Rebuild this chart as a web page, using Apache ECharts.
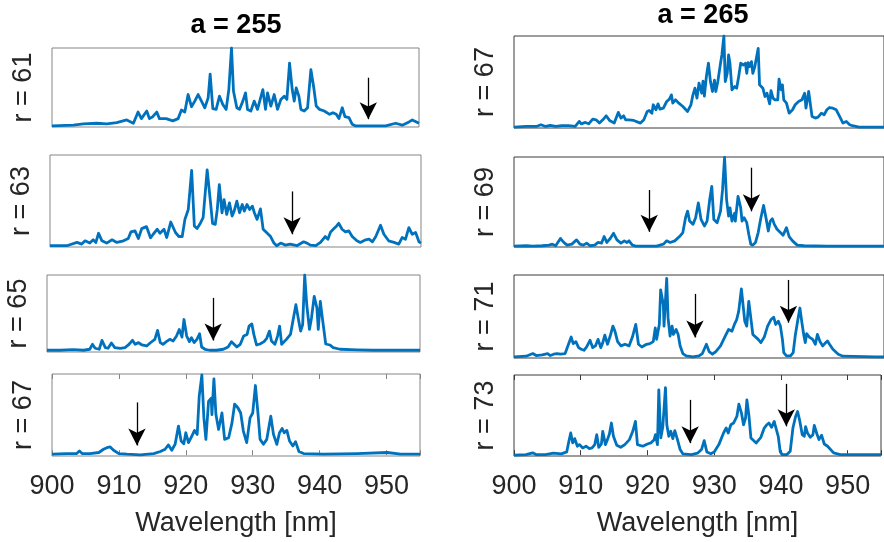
<!DOCTYPE html>
<html>
<head>
<meta charset="utf-8">
<script src="https://cdn.jsdelivr.net/npm/echarts@6/dist/echarts.min.js"></script>
<style>
html, body { margin: 0; padding: 0; background: #ffffff; }
#chart { width: 884px; height: 542px; }
</style>
</head>
<body>
<div id="chart"></div>
<script>
// Column headings and per-panel row labels
const columnTitles = ['a = 255', 'a = 265'];
const rowLabelsA255 = ['r = 61', 'r = 63', 'r = 65', 'r = 67'];
const rowLabelsA265 = ['r = 67', 'r = 69', 'r = 71', 'r = 73'];
const xTickLabels = [900, 910, 920, 930, 940, 950];
const xLabel = 'Wavelength [nm]';

// Spectra: [wavelength (nm), intensity (% of panel max)]
const spec_a255_r61 = [
  [900.0,0.4],[903.2,1.3],[904.7,3.0],[906.7,3.8],[908.2,3.0],[909.7,4.6],[911.2,8.0],[912.2,3.8],
  [912.9,18.1],[913.4,9.7],[914.2,19.4],[914.6,9.7],[915.1,12.2],[915.7,18.1],[916.1,9.7],[917.1,9.7],
  [918.1,6.8],[918.9,9.7],[919.4,20.7],[919.9,18.1],[920.1,19.4],[920.4,40.5],[920.9,24.9],[921.4,32.1],
  [921.9,40.5],[922.4,32.1],[922.9,23.6],[923.4,36.3],[923.7,66.7],[924.1,22.4],[924.6,21.5],[925.1,38.4],
  [925.6,27.8],[926.1,21.5],[926.5,46.8],[926.9,100],[927.2,44.7],[927.7,23.6],[928.1,21.5],[928.6,32.1],
  [929.0,42.6],[929.3,21.5],[929.8,19.4],[930.3,32.1],[930.8,21.5],[931.2,34.2],[931.6,46.8],[932.0,21.5],
  [932.3,42.6],[932.8,25.7],[933.3,40.5],[933.8,21.5],[934.3,34.2],[934.8,38.4],[935.2,34.2],[935.6,80.6],
  [936.0,46.8],[936.3,32.1],[936.6,48.9],[937.0,38.4],[937.3,21.5],[937.8,19.4],[938.3,23.6],[938.8,72.2],
  [939.2,51.1],[939.6,25.7],[940.1,21.5],[940.8,19.4],[941.6,15.2],[942.1,17.3],[942.6,15.2],[943.0,9.7],
  [943.5,23.6],[943.9,12.2],[944.5,11.0],[945.0,2.5],[945.5,0.4],[948.0,0.4],[950.0,0.4],[951.5,3.8],
  [952.5,1.3],[953.5,5.5],[954.0,8.0],[955.0,3.8]
];
const spec_a255_r63 = [
  [900.0,0.4],[902.5,0.4],[904.0,4.0],[904.7,2.2],[905.2,5.8],[905.9,3.3],[906.4,6.9],[906.8,4.0],
  [907.2,14.1],[907.7,5.8],[908.4,3.3],[909.2,6.9],[909.9,4.0],[910.9,5.8],[911.6,8.3],[912.0,15.6],
  [912.6,16.7],[913.1,8.3],[913.6,19.2],[914.3,21.4],[914.9,9.1],[915.3,13.0],[915.9,18.5],[916.3,14.1],
  [916.9,18.5],[917.3,9.4],[917.9,26.4],[918.6,14.9],[919.1,10.5],[919.6,10.5],[920.0,29.3],[920.5,40.2],
  [921.0,83.0],[921.4,22.1],[921.8,19.2],[922.2,23.9],[922.7,31.2],[923.3,83.7],[923.8,47.5],[924.1,25.0],
  [924.5,23.9],[924.8,40.2],[925.1,67.4],[925.5,36.6],[925.8,51.1],[926.2,34.8],[926.6,47.5],[927.0,33.0],
  [927.3,38.4],[927.7,49.3],[928.1,36.6],[928.5,45.7],[928.8,38.4],[929.2,45.7],[929.6,40.2],[930.0,43.8],
  [930.3,36.6],[930.7,29.3],[931.2,40.9],[931.6,18.5],[932.1,14.9],[932.7,10.5],[933.2,3.3],[933.6,0.4],
  [934.2,3.3],[934.9,1.1],[935.6,2.2],[936.6,0.4],[937.6,4.7],[938.1,3.3],[938.6,1.1],[939.4,0.4],
  [940.1,4.0],[940.8,10.5],[941.2,7.6],[941.6,15.6],[942.1,19.2],[942.5,22.1],[942.8,25.0],[943.3,18.5],
  [943.8,15.6],[944.3,16.7],[944.8,10.5],[945.5,5.8],[946.0,4.0],[946.8,6.9],[947.3,7.6],[947.8,4.7],
  [948.3,10.5],[949.0,22.8],[949.5,13.0],[950.2,5.8],[951.0,4.0],[951.7,2.2],[952.2,9.4],[952.7,7.6],
  [953.2,20.3],[953.7,13.0],[954.2,14.9],[954.7,4.7],[955.0,3.3]
];
const spec_a255_r65 = [
  [900.0,1.3],[901.9,1.3],[903.9,2.2],[905.4,1.3],[906.3,2.6],[906.7,9.1],[907.1,3.9],[907.7,2.6],
  [908.1,14.3],[908.6,4.8],[909.0,3.9],[909.5,10.8],[910.0,4.8],[910.8,3.9],[911.5,4.8],[912.0,8.2],
  [912.6,14.3],[913.0,9.1],[913.5,11.3],[914.0,8.2],[914.7,6.9],[915.2,10.8],[915.9,15.6],[916.3,27.3],
  [916.7,11.3],[917.1,9.1],[917.6,12.6],[918.1,15.6],[918.6,13.4],[919.1,19.9],[919.5,28.6],[919.9,18.6],
  [920.2,41.6],[920.6,19.9],[921.0,12.6],[921.3,17.7],[921.7,11.3],[922.1,15.6],[922.5,22.9],[922.8,5.6],
  [923.3,2.6],[924.0,1.3],[925.0,1.3],[926.0,2.6],[926.7,5.6],[927.2,12.6],[928.0,5.6],[928.5,9.1],
  [929.0,19.9],[929.5,22.1],[929.8,32.9],[930.2,35.9],[930.5,22.1],[930.9,8.2],[931.4,9.5],[932.0,12.6],
  [932.4,16.9],[932.8,26.4],[933.1,13.4],[933.6,9.1],[934.0,19.9],[934.3,32.9],[934.6,9.1],[935.3,15.6],
  [935.9,22.1],[936.3,41.6],[936.7,61.0],[937.1,40.7],[937.4,26.4],[937.7,35.1],[938.0,100],[938.3,61.0],
  [938.7,28.6],[939.0,43.7],[939.4,71.9],[939.8,56.7],[940.0,28.6],[940.3,65.4],[940.6,43.7],[941.1,9.5],
  [941.7,8.2],[942.2,4.8],[943.2,2.6],[945.7,1.7],[948.1,1.3],[955.0,1.3]
];
const spec_a255_r67 = [
  [900.0,1.2],[902.2,2.0],[903.7,2.0],[904.1,5.3],[904.5,2.0],[905.7,2.0],[907.0,3.3],[907.7,7.3],
  [908.2,9.3],[908.7,10.2],[909.2,6.1],[910.0,2.0],[911.2,1.2],[913.2,0.4],[915.2,2.0],[916.2,4.5],
  [916.9,7.3],[917.4,12.6],[917.9,6.1],[918.4,13.4],[918.9,35.8],[919.3,17.5],[919.7,14.2],[920.0,27.6],
  [920.4,15.4],[920.9,23.6],[921.3,30.5],[921.7,25.6],[922.0,72.4],[922.4,98.8],[922.7,45.9],[923.0,19.5],
  [923.4,66.3],[923.8,70.3],[923.9,50.0],[924.2,93.9],[924.5,50.0],[924.9,31.7],[925.4,52.0],[925.8,19.5],
  [926.4,21.5],[926.9,39.8],[927.3,63.0],[927.8,58.1],[928.2,52.0],[928.6,29.7],[929.1,15.4],[929.6,45.9],
  [930.0,52.0],[930.4,85.8],[930.8,50.0],[931.1,19.5],[931.6,13.4],[932.1,19.5],[932.7,48.0],[933.1,25.6],
  [933.6,13.4],[934.0,27.6],[934.4,32.9],[934.7,27.6],[935.1,30.5],[935.5,17.5],[936.0,11.4],[936.4,16.7],
  [936.9,4.5],[937.6,2.0],[940.6,1.2],[945.6,2.0],[950.1,3.3],[952.1,1.2],[955.0,1.2]
];
const spec_a265_r67 = [
  [900.0,0],[901.8,0.7],[903.3,0.7],[904.0,2.6],[904.7,0.7],[905.4,1.8],[906.2,0.7],[907.1,1.5],
  [908.1,1.5],[909.1,0.7],[909.7,6.2],[910.0,3.6],[910.6,5.1],[911.1,3.6],[911.7,8.8],[912.2,8.0],
  [912.7,4.4],[913.2,8.0],[913.7,12.4],[914.2,7.3],[914.9,4.4],[915.5,16.1],[915.9,9.9],[916.3,12.4],
  [916.6,8.0],[917.1,8.0],[917.8,7.3],[918.8,4.4],[919.3,8.0],[919.8,17.2],[920.1,18.2],[920.5,15.3],
  [920.7,24.5],[921.1,19.0],[921.4,25.5],[921.7,19.7],[922.2,20.8],[922.7,28.1],[923.1,30.7],[923.4,35.4],
  [923.6,26.3],[924.0,29.9],[924.5,26.3],[925.1,22.6],[925.8,17.2],[926.3,24.5],[926.6,35.4],[926.9,42.7],
  [927.2,31.8],[927.5,48.2],[927.9,37.2],[928.1,50.4],[928.3,33.9],[928.6,55.8],[928.9,70.1],[929.2,50.0],
  [929.5,39.1],[929.8,51.5],[930.0,39.1],[930.3,50.0],[930.7,70.1],[930.9,79.2],[931.2,100],[931.4,50.0],
  [931.7,59.1],[931.9,79.2],[932.1,70.1],[932.4,40.9],[932.8,44.5],[933.1,42.7],[933.4,55.5],[933.7,70.1],
  [934.1,68.2],[934.4,70.1],[934.6,59.1],[934.8,70.8],[935.0,66.4],[935.3,71.9],[935.5,59.1],[935.8,66.4],
  [936.0,64.6],[936.3,86.5],[936.5,46.4],[936.7,44.5],[937.0,42.7],[937.3,33.6],[937.6,37.2],[938.0,25.5],
  [938.2,40.1],[938.5,31.8],[938.8,29.9],[939.2,29.9],[939.4,52.6],[939.7,40.9],[939.9,46.4],[940.1,29.9],
  [940.5,26.3],[940.9,15.3],[941.4,19.0],[941.8,24.5],[942.3,28.1],[942.8,29.9],[943.2,37.2],[943.4,20.8],
  [943.8,39.1],[944.3,11.7],[944.8,9.9],[945.2,10.9],[945.7,15.3],[946.1,13.5],[946.5,19.0],[946.9,21.5],
  [947.4,20.8],[947.9,19.0],[948.4,11.7],[948.9,4.4],[949.4,6.2],[949.9,2.6],[950.3,1.5],[951.3,0],
  [953.7,0],[955.0,0]
];
const spec_a265_r69 = [
  [900.0,0],[901.8,0.4],[902.8,0],[904.2,0.4],[905.2,1.1],[905.7,2.2],[906.2,0.4],[906.9,8.5],
  [907.4,4.1],[907.9,1.1],[908.6,2.2],[909.3,7.0],[909.8,2.2],[910.3,1.1],[910.8,3.3],[911.3,0.4],
  [912.0,1.1],[912.5,4.1],[913.0,3.3],[913.4,10.7],[913.8,4.1],[914.3,8.5],[914.8,14.4],[915.3,7.0],
  [915.9,3.3],[916.4,5.9],[916.8,4.1],[917.1,5.9],[917.6,1.1],[918.1,0],[919.3,0],[921.2,0],
  [922.2,2.2],[922.7,5.9],[923.2,4.1],[923.9,5.9],[924.6,10.7],[925.1,15.2],[925.5,31.9],[925.8,39.3],
  [926.1,28.1],[926.6,24.4],[927.0,31.9],[927.4,48.5],[927.8,30.0],[928.3,22.6],[928.7,28.1],[929.1,52.6],
  [929.4,67.0],[929.7,30.0],[930.2,26.3],[930.7,39.3],[931.0,63.3],[931.3,99.6],[931.6,52.2],[931.9,33.7],
  [932.1,43.0],[932.4,28.1],[932.8,37.0],[932.9,28.1],[933.3,55.9],[933.7,43.0],[933.9,28.1],[934.2,31.9],
  [934.6,26.3],[934.9,13.3],[935.2,2.2],[935.5,1.1],[935.9,4.1],[936.3,15.2],[936.7,31.9],[937.1,45.6],
  [937.5,30.0],[937.8,17.0],[938.1,28.1],[938.4,30.7],[938.7,24.4],[939.1,18.9],[939.6,15.2],[940.0,12.2],
  [940.5,20.7],[940.9,10.7],[941.4,5.9],[942.1,1.1],[943.1,0.4],[946.5,0],[953.7,0],[955.0,0]
];
const spec_a265_r71 = [
  [900.0,0.4],[901.8,1.2],[902.8,4.4],[903.3,2.0],[904.2,2.8],[905.0,4.4],[905.4,2.0],[905.9,3.6],
  [906.4,4.4],[906.9,3.6],[907.6,4.4],[908.1,15.7],[908.5,24.5],[908.8,16.5],[909.2,18.9],[909.6,11.6],
  [910.0,9.6],[910.4,8.4],[910.8,12.4],[911.3,20.5],[911.7,11.6],[912.1,13.7],[912.5,21.7],[912.9,11.6],
  [913.2,17.7],[913.5,26.9],[913.9,15.7],[914.3,25.7],[914.7,37.8],[915.0,31.7],[915.4,18.9],[915.9,13.7],
  [916.5,15.7],[917.1,13.7],[917.6,24.5],[918.1,39.8],[918.5,15.7],[919.0,12.4],[919.7,15.7],[920.2,16.5],
  [920.7,18.9],[921.0,35.7],[921.2,21.7],[921.6,39.8],[921.8,81.9],[922.2,63.9],[922.3,37.8],[922.7,96.0],
  [922.9,47.8],[923.2,25.7],[923.5,37.8],[923.7,27.7],[924.1,33.7],[924.4,27.7],[924.7,13.7],[925.1,4.4],
  [925.6,1.6],[926.6,0.4],[927.5,1.6],[928.0,4.4],[928.6,15.7],[929.0,6.8],[929.5,3.6],[930.0,6.8],
  [930.7,13.7],[931.4,25.7],[931.9,33.7],[932.4,31.7],[932.8,40.6],[933.1,45.8],[933.4,55.8],[933.8,83.1],
  [934.1,59.8],[934.3,43.8],[934.6,37.8],[934.9,67.9],[935.2,47.8],[935.5,27.7],[936.3,21.7],[936.7,17.7],
  [937.2,24.5],[937.7,37.8],[938.2,45.8],[938.6,48.6],[938.9,39.8],[939.3,43.8],[939.6,37.8],[939.9,21.7],
  [940.1,5.6],[940.5,1.6],[941.1,1.6],[941.5,5.6],[941.8,25.7],[942.2,45.8],[942.5,59.8],[942.8,41.8],
  [943.1,25.7],[943.3,17.7],[943.5,28.5],[943.9,24.5],[944.4,21.7],[944.8,15.7],[945.1,27.7],[945.5,18.9],
  [945.9,13.7],[946.2,16.5],[946.6,19.7],[946.9,15.7],[947.4,9.6],[948.2,3.6],[948.9,1.2],[953.7,0.4],
  [955.0,0.4]
];
const spec_a265_r73 = [
  [900.0,0],[901.8,0.8],[902.8,2.9],[903.3,0.8],[904.7,0.8],[905.9,2.5],[907.1,1.7],[907.9,4.1],
  [908.2,16.5],[908.5,27.7],[908.8,15.3],[909.1,20.7],[909.5,11.2],[909.8,13.2],[910.3,9.1],[910.8,11.2],
  [911.3,8.3],[911.7,9.1],[912.1,13.2],[912.4,25.6],[912.7,9.9],[913.1,14.0],[913.3,29.8],[913.7,13.2],
  [914.0,19.4],[914.3,26.4],[914.6,40.1],[914.9,23.6],[915.4,12.4],[916.0,9.9],[916.6,13.2],[917.3,19.4],
  [917.8,29.8],[918.2,42.1],[918.5,13.2],[919.3,11.2],[920.0,14.0],[920.5,15.3],[921.0,19.4],[921.2,25.6],
  [921.5,13.2],[921.7,81.4],[922.0,21.5],[922.3,35.5],[922.7,84.3],[922.9,38.0],[923.2,23.6],[923.5,29.8],
  [923.8,20.7],[924.1,30.6],[924.5,19.4],[924.9,7.0],[925.3,1.7],[926.6,0.8],[927.5,2.5],[928.1,7.0],
  [928.5,18.2],[928.9,4.1],[929.5,1.7],[930.0,4.1],[930.7,13.2],[931.4,27.7],[931.8,33.9],[932.1,27.7],
  [932.5,38.0],[932.9,40.1],[933.1,38.0],[933.4,48.3],[933.7,63.6],[934.1,52.1],[934.4,38.0],[934.7,46.3],
  [934.9,69.0],[935.2,50.0],[935.5,21.5],[936.3,15.3],[937.0,22.3],[937.5,33.9],[937.9,38.0],[938.2,40.1],
  [938.6,34.7],[939.0,42.1],[939.2,35.5],[939.6,23.6],[939.9,4.1],[940.2,0.8],[940.9,0.8],[941.4,5.0],
  [941.8,33.9],[942.2,48.3],[942.5,54.5],[942.8,43.8],[943.2,25.6],[943.5,23.6],[943.7,35.5],[944.0,27.3],
  [944.4,22.3],[944.8,25.6],[945.0,37.2],[945.4,26.4],[945.7,19.4],[946.1,24.8],[946.5,14.0],[947.0,11.2],
  [947.9,2.9],[948.9,0.8],[953.7,0.8],[955.0,0.8]
];

// Marked absorption dips: [wavelength, arrow tail level, arrow head level]
const dips_a255_r61 = [[947.4, 62, 9]];
const dips_a255_r63 = [[935.9, 60, 13]];
const dips_a255_r65 = [[924.5, 70, 14]];
const dips_a255_r67 = [[912.7, 65, 12]];
const dips_a265_r67 = [];
const dips_a265_r69 = [[920.1, 63, 16], [935.3, 88, 39]];
const dips_a265_r71 = [[926.9, 77, 24], [940.8, 94, 42]];
const dips_a265_r73 = [[926.4, 69, 15], [940.8, 89, 36]];

const columns = [
  { title: columnTitles[0], labels: rowLabelsA255,
    spectra: [spec_a255_r61, spec_a255_r63, spec_a255_r65, spec_a255_r67],
    dips: [dips_a255_r61, dips_a255_r63, dips_a255_r65, dips_a255_r67] },
  { title: columnTitles[1], labels: rowLabelsA265,
    spectra: [spec_a265_r67, spec_a265_r69, spec_a265_r71, spec_a265_r73],
    dips: [dips_a265_r67, dips_a265_r69, dips_a265_r71, dips_a265_r73] }
];

// Layout of the subplot boxes
const frames = [
  [ {left: 52, top: 48, width: 367, height: 79},
    {left: 50, top: 155, width: 371, height: 92},
    {left: 47, top: 275, width: 373, height: 77},
    {left: 52, top: 374, width: 368, height: 82} ],
  [ {left: 514, top: 36, width: 378, height: 92},
    {left: 514, top: 157, width: 378, height: 90},
    {left: 514, top: 275, width: 378, height: 83},
    {left: 514, top: 375, width: 378, height: 81} ]
];
const titlePos = [ {x: 236, y: 26}, {x: 703, y: 16} ];
const boxColors = ['#858585', '#3a3a3a'];

const FONT = '"Liberation Sans", Arial, Helvetica, sans-serif';
const TEXT_COLOR = '#262626';
const LINE_COLOR = '#0072BD';

const grid = [], xAxis = [], yAxis = [], series = [], graphic = [];

columns.forEach((col, c) => {
  graphic.push({
    type: 'text', x: titlePos[c].x, y: titlePos[c].y,
    style: { text: col.title, fill: '#000', font: 'bold 27px ' + FONT, align: 'center', verticalAlign: 'middle' }
  });
  col.spectra.forEach((spec, r) => {
    const gi = grid.length;
    const f = frames[c][r];
    const isBottom = r === col.spectra.length - 1;
    grid.push({ left: f.left, top: f.top, width: f.width, height: f.height,
      show: true, borderColor: boxColors[c], borderWidth: 1, backgroundColor: 'transparent' });

    const xi = xAxis.length;
    xAxis.push({
      type: 'value', gridIndex: gi, min: 900, max: 955, interval: 10, position: 'bottom',
      axisLine: { show: false },
      axisTick: { show: isBottom, inside: true, length: 5, lineStyle: { color: boxColors[c], width: 1 } },
      axisLabel: { show: isBottom, margin: 17, fontSize: 27, fontFamily: FONT, color: TEXT_COLOR,
        formatter: v => xTickLabels.indexOf(v) >= 0 ? String(v) : '' },
      splitLine: { show: false },
      name: isBottom ? xLabel : '', nameLocation: 'middle', nameGap: 54,
      nameTextStyle: { fontSize: 27, fontFamily: FONT, color: TEXT_COLOR }
    });
    if (isBottom) {
      xAxis.push({
        type: 'value', gridIndex: gi, min: 900, max: 955, interval: 10, position: 'top',
        axisLine: { show: false },
        axisTick: { show: true, inside: true, length: 5, lineStyle: { color: boxColors[c], width: 1 } },
        axisLabel: { show: false }, splitLine: { show: false }
      });
    }
    yAxis.push({
      type: 'value', gridIndex: gi, min: -1, max: 100,
      axisLine: { show: false }, axisTick: { show: false }, axisLabel: { show: false }, splitLine: { show: false },
      name: col.labels[r], nameLocation: 'middle', nameRotate: 90, nameGap: 15,
      nameTextStyle: { fontSize: 27, fontFamily: FONT, color: TEXT_COLOR }
    });

    series.push({
      type: 'line', xAxisIndex: xi, yAxisIndex: gi, data: spec,
      showSymbol: false, symbol: 'none', animation: false, silent: true,
      lineStyle: { color: LINE_COLOR, width: 2.8, join: 'round' },
      markLine: {
        silent: true, animation: false,
        symbol: ['none', 'arrow'], symbolSize: [13, 17],
        lineStyle: { color: '#000', width: 1.3, type: 'solid' },
        label: { show: false },
        emphasis: { disabled: true },
        data: col.dips[r].map(d => [{ coord: [d[0], d[1]] }, { coord: [d[0], d[2]] }])
      }
    });
  });
});

const chart = echarts.init(document.getElementById('chart'), null, { renderer: 'canvas' });
chart.setOption({
  backgroundColor: '#ffffff',
  animation: false,
  grid, xAxis, yAxis, series, graphic
});
</script>
</body>
</html>
